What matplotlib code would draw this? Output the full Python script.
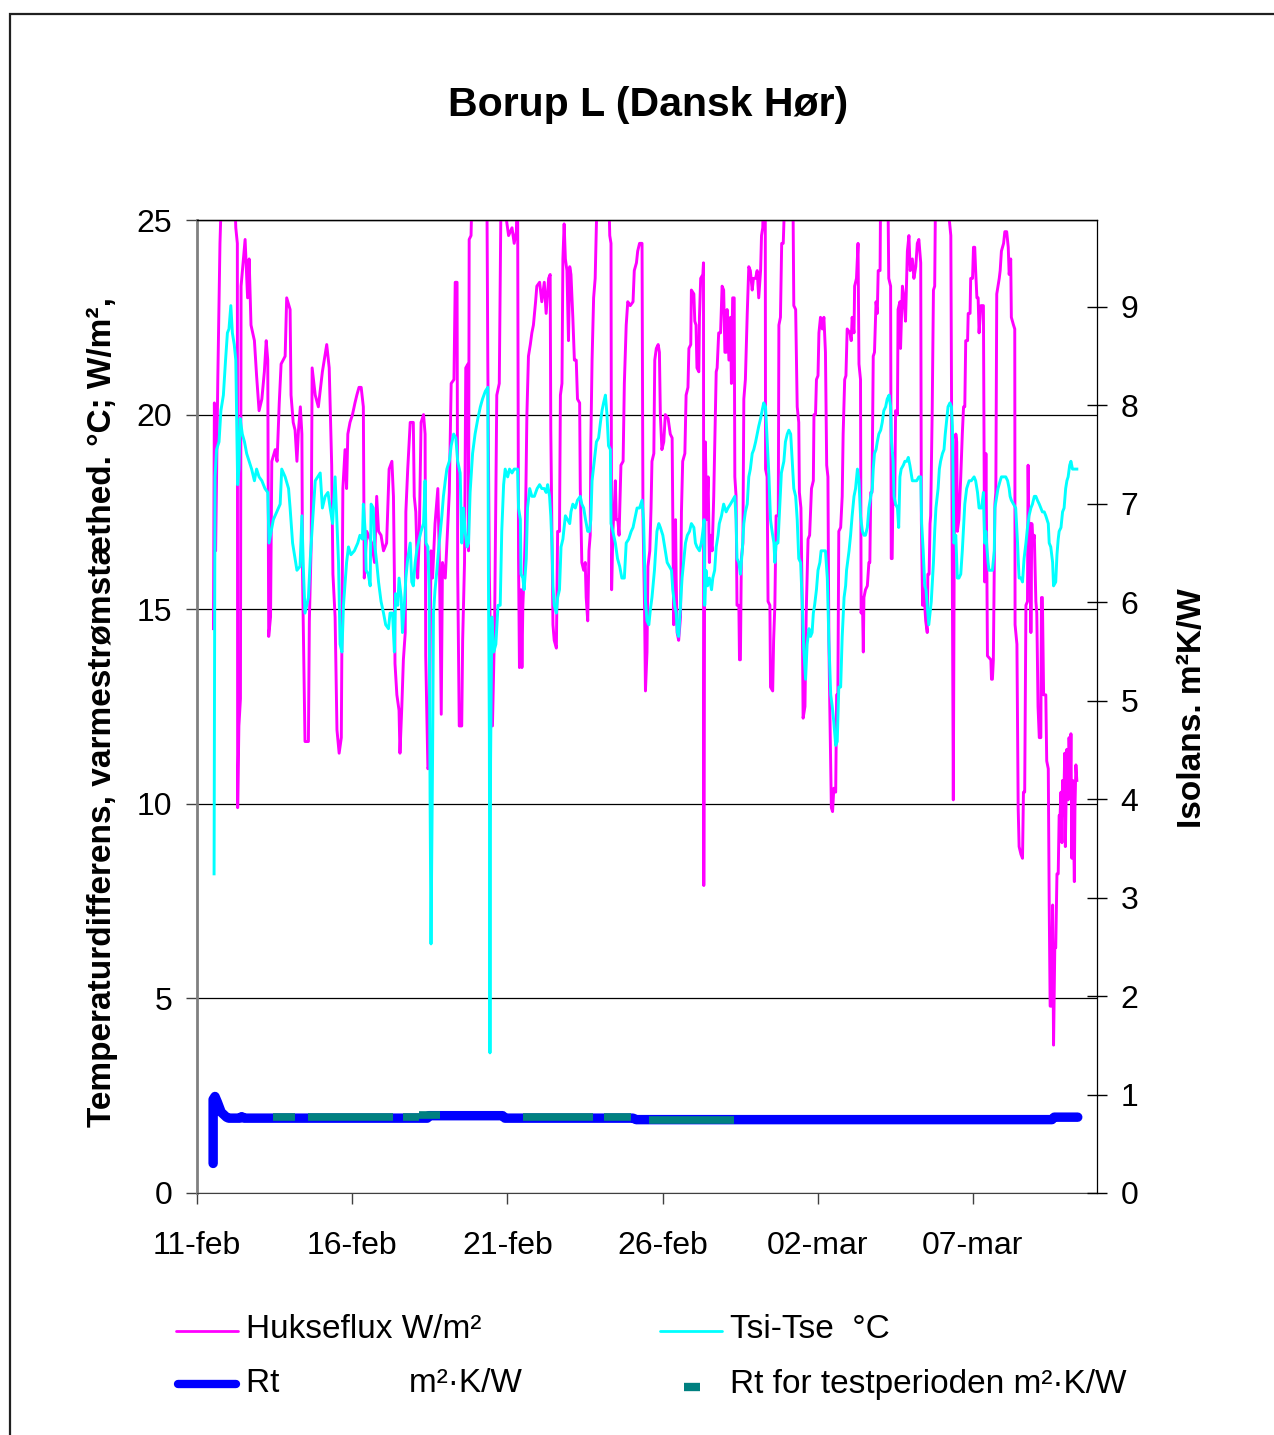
import matplotlib.pyplot as plt
import numpy as np
from matplotlib.lines import Line2D
from matplotlib.patches import Rectangle

plt.rcParams['font.family'] = ['Liberation Sans', 'DejaVu Sans']

# tid i dage efter 11-feb 2008 kl. 00
x_ticks = [0, 5, 10, 15, 20, 25]
x_labels = ['11-feb', '16-feb', '21-feb', '26-feb', '02-mar', '07-mar']

# Hukseflux varmestrømstæthed W/m² (dag, værdi)
huks = [
    (0.53, 14.5), (0.56, 20.3), (0.60, 16.5), (0.67, 20.9), (0.74, 24.4), (0.80, 26.0), (1.20, 26.0),
    (1.25, 24.8), (1.30, 24.4), (1.31, 9.9), (1.35, 12.0), (1.40, 12.7), (1.42, 23.3), (1.55, 24.5),
    (1.63, 23.0), (1.68, 24.0), (1.74, 22.3), (1.85, 21.9), (1.92, 21.0), (2.00, 20.1), (2.09, 20.4),
    (2.17, 21.1), (2.23, 21.9), (2.28, 21.4), (2.31, 14.3), (2.37, 14.8), (2.41, 18.8), (2.52, 19.1),
    (2.58, 18.8), (2.65, 20.3), (2.71, 21.3), (2.84, 21.5), (2.89, 23.0), (3.00, 22.7), (3.03, 20.5),
    (3.10, 19.8), (3.16, 19.6), (3.22, 18.8), (3.27, 19.6), (3.33, 20.2), (3.38, 19.5), (3.40, 15.9),
    (3.48, 11.6), (3.59, 11.6), (3.62, 14.7), (3.68, 16.7), (3.71, 21.2), (3.81, 20.5), (3.91, 20.2),
    (4.04, 21.1), (4.18, 21.8), (4.26, 21.2), (4.34, 18.7), (4.38, 15.9), (4.45, 14.8), (4.51, 11.9),
    (4.58, 11.3), (4.65, 11.7), (4.70, 18.1),
    (4.77, 19.1), (4.82, 18.1), (4.86, 19.5), (4.93, 19.8), (5.01, 20.0), (5.09, 20.3), (5.15, 20.5),
    (5.22, 20.7), (5.29, 20.7), (5.36, 20.2), (5.39, 15.8), (5.47, 17.0), (5.63, 16.7), (5.72, 16.2),
    (5.79, 17.9), (5.85, 17.0), (5.93, 16.9), (6.01, 16.5), (6.11, 16.7), (6.19, 18.6), (6.28, 18.8),
    (6.33, 17.9), (6.36, 15.9), (6.38, 13.6), (6.44, 12.8), (6.51, 12.4), (6.54, 11.3), (6.60, 12.5),
    (6.65, 13.7), (6.71, 14.4), (6.73, 17.5), (6.79, 18.6), (6.87, 19.8), (6.97, 19.8), (7.00, 17.9),
    (7.05, 17.5), (7.11, 15.8), (7.16, 16.8), (7.22, 19.8), (7.30, 20.0), (7.35, 19.5), (7.37, 13.8),
    (7.44, 10.9), (7.48, 11.0), (7.54, 16.5), (7.59, 15.8), (7.67, 17.2), (7.76, 18.1), (7.81, 16.3),
    (7.87, 12.3), (7.91, 16.2), (8.00, 15.8), (8.13, 18.0), (8.19, 20.8), (8.28, 20.9), (8.32, 23.4),
    (8.38, 23.4), (8.40, 16.0), (8.45, 12.0), (8.53, 12.0), (8.56, 14.2), (8.62, 16.2), (8.66, 21.2),
    (8.73, 21.3), (8.75, 16.5), (8.77, 24.5), (8.83, 24.6), (8.87, 26.0), (9.34, 26.0), (9.37, 21.4),
    (9.42, 15.9), (9.46, 13.9), (9.52, 12.0), (9.59, 14.6), (9.66, 20.5), (9.74, 20.8),
    (9.80, 26.0), (9.97, 25.0), (10.04, 24.6), (10.15, 24.8), (10.22, 24.4), (10.29, 24.7), (10.33, 26.0),
    (10.36, 16.3), (10.39, 13.5), (10.44, 15.5), (10.47, 13.5), (10.50, 15.1), (10.54, 15.9), (10.58, 17.0),
    (10.63, 20.0), (10.68, 21.5), (10.74, 21.8), (10.79, 22.1), (10.84, 22.3), (10.91, 22.9), (10.95, 23.3),
    (11.04, 23.4), (11.11, 22.9), (11.19, 23.4), (11.25, 22.6), (11.33, 23.5), (11.38, 23.6), (11.40, 19.6),
    (11.44, 16.7), (11.47, 14.6), (11.51, 14.2), (11.58, 14.0), (11.62, 17.0), (11.68, 17.0), (11.71, 20.5),
    (11.76, 20.8), (11.79, 24.0), (11.83, 24.9), (11.87, 24.0), (11.92, 23.7), (11.97, 21.9), (12.01, 23.8),
    (12.05, 23.6), (12.11, 22.5), (12.16, 21.4), (12.22, 21.4), (12.26, 20.4), (12.33, 20.3), (12.35, 18.1),
    (12.40, 16.2), (12.46, 16.0), (12.51, 16.2), (12.54, 15.3), (12.59, 14.7), (12.63, 16.5), (12.67, 16.9),
    (12.69, 19.3), (12.73, 21.4), (12.78, 23.0), (12.83, 23.5), (12.87, 24.9), (12.91, 26.0), (13.26, 26.0),
    (13.30, 24.6), (13.34, 24.4), (13.36, 15.5), (13.40, 17.0), (13.45, 17.7), (13.48, 18.3), (13.51, 17.3),
    (13.56, 17.3), (13.60, 16.9), (13.66, 18.7), (13.73, 18.8), (13.77, 20.8), (13.83, 22.3), (13.88, 22.9),
    (13.96, 22.8), (14.05, 22.9), (14.09, 23.7), (14.16, 23.9), (14.20, 24.2), (14.26, 24.4), (14.34, 24.4),
    (14.37, 17.4), (14.42, 15.1), (14.45, 12.9), (14.50, 13.9), (14.53, 16.1), (14.59, 16.5), (14.63, 17.6),
    (14.66, 18.8), (14.72, 19.0), (14.75, 21.4),
    (14.80, 21.7), (14.86, 21.8), (14.90, 21.6), (14.93, 20.0), (14.98, 19.1), (15.04, 19.3), (15.09, 20.0),
    (15.18, 19.9), (15.25, 19.5), (15.31, 19.4), (15.33, 17.4), (15.36, 14.6), (15.42, 17.3), (15.44, 15.8),
    (15.47, 14.4), (15.52, 14.2), (15.58, 14.8), (15.61, 17.5), (15.65, 18.8), (15.72, 19.0), (15.76, 20.5),
    (15.82, 20.7), (15.85, 21.7), (15.91, 21.8), (15.93, 23.2), (16.01, 23.1), (16.04, 22.4), (16.08, 22.3),
    (16.11, 21.2), (16.17, 21.1), (16.19, 22.5), (16.23, 23.5), (16.30, 23.6), (16.32, 23.9), (16.33, 7.9),
    (16.35, 15.0), (16.38, 19.3), (16.42, 17.3), (16.47, 18.4), (16.51, 16.2), (16.54, 16.9), (16.60, 16.5),
    (16.65, 17.9), (16.68, 19.1), (16.73, 21.1), (16.76, 21.2), (16.81, 22.1), (16.87, 22.1), (16.92, 23.3),
    (16.97, 23.2), (17.01, 21.6), (17.05, 21.6), (17.08, 22.7), (17.14, 21.4), (17.19, 22.5), (17.22, 20.8),
    (17.26, 23.0), (17.31, 23.0), (17.33, 18.4), (17.37, 17.9), (17.40, 15.1), (17.46, 15.1), (17.48, 13.7),
    (17.51, 13.7), (17.54, 16.3), (17.59, 16.7), (17.62, 20.4), (17.67, 20.9), (17.73, 22.6), (17.78, 23.8),
    (17.83, 23.7), (17.89, 23.2), (17.93, 23.5), (18.00, 23.5), (18.05, 23.7), (18.10, 23.0), (18.16, 23.7),
    (18.19, 24.6), (18.23, 24.8), (18.26, 26.0), (18.31, 26.0), (18.32, 18.6), (18.37, 18.4), (18.40, 15.2),
    (18.46, 15.1), (18.48, 13.0), (18.55, 12.9), (18.58, 14.2), (18.62, 15.1), (18.66, 17.4), (18.73, 17.4),
    (18.75, 22.3), (18.80, 22.5), (18.84, 24.4), (18.89, 24.4), (18.91, 24.9), (18.96, 26.0), (19.20, 26.0),
    (19.23, 22.8), (19.29, 22.7), (19.34, 20.2), (19.39, 19.8), (19.41, 18.0), (19.46, 17.6), (19.50, 15.2),
    (19.53, 12.2), (19.59, 12.5), (19.63, 14.9), (19.69, 16.8), (19.74, 16.9),
    (19.80, 18.1), (19.86, 18.3), (19.88, 20.0), (19.93, 20.0), (19.96, 20.9), (20.01, 21.0), (20.04, 22.1),
    (20.09, 22.5), (20.15, 22.2), (20.20, 22.5), (20.25, 21.6), (20.29, 18.7), (20.33, 18.4), (20.36, 14.2),
    (20.39, 12.5), (20.44, 9.9), (20.48, 9.8), (20.52, 10.4), (20.58, 10.3), (20.61, 12.8), (20.65, 12.8),
    (20.68, 17.0), (20.74, 17.1), (20.79, 17.9), (20.82, 19.5), (20.87, 20.9), (20.91, 21.0), (20.95, 22.2),
    (21.04, 22.1), (21.08, 21.9), (21.11, 22.5), (21.17, 22.1), (21.19, 23.3), (21.25, 23.5), (21.30, 24.4),
    (21.33, 21.3), (21.38, 20.9), (21.40, 14.9), (21.44, 15.3), (21.47, 13.9), (21.49, 15.3), (21.54, 15.5),
    (21.60, 15.6), (21.65, 16.2), (21.68, 16.2), (21.71, 18.0), (21.75, 18.0), (21.79, 21.5), (21.83, 21.6),
    (21.88, 22.9), (21.92, 22.6), (21.95, 23.7), (22.01, 23.7), (22.03, 26.0), (22.26, 26.0), (22.29, 23.5),
    (22.35, 23.3), (22.37, 16.3), (22.40, 16.3), (22.44, 19.0), (22.48, 17.7), (22.51, 20.1), (22.57, 20.0),
    (22.59, 22.7), (22.65, 22.9), (22.67, 21.7), (22.73, 23.3), (22.78, 23.0), (22.83, 22.4), (22.89, 24.2),
    (22.94, 24.6), (22.98, 23.7), (23.05, 24.0), (23.10, 23.5), (23.16, 23.8), (23.21, 24.4), (23.26, 24.5),
    (23.32, 23.9), (23.34, 17.3), (23.38, 15.1), (23.43, 15.6), (23.45, 15.1), (23.48, 14.7), (23.53, 14.4),
    (23.55, 15.9), (23.59, 15.9), (23.62, 17.2), (23.64, 17.4), (23.69, 20.1), (23.73, 23.2), (23.77, 23.3),
    (23.80, 26.0), (23.96, 25.5), (24.23, 25.1), (24.29, 24.6), (24.37, 10.1), (24.40, 16.7), (24.45, 19.5),
    (24.48, 19.3), (24.50, 17.0), (24.55, 17.3),
    (24.61, 18.4), (24.66, 19.5), (24.70, 20.2), (24.74, 20.2), (24.77, 21.9), (24.83, 21.9), (24.85, 22.6),
    (24.91, 22.6), (24.93, 23.5), (24.99, 23.5), (25.02, 24.3), (25.06, 24.3), (25.09, 23.7), (25.13, 23.0),
    (25.17, 23.0), (25.20, 22.1), (25.26, 22.8), (25.34, 22.8), (25.36, 19.1), (25.38, 15.7), (25.42, 19.0),
    (25.45, 16.2), (25.47, 13.8), (25.58, 13.7), (25.60, 13.2), (25.63, 13.2), (25.66, 13.7), (25.69, 16.0),
    (25.71, 17.7), (25.74, 18.0), (25.77, 23.1), (25.81, 23.3), (25.85, 23.5), (25.88, 23.7), (25.92, 24.2),
    (25.99, 24.4), (26.03, 24.7), (26.09, 24.7), (26.14, 24.3), (26.17, 23.6), (26.22, 24.0), (26.24, 22.5),
    (26.31, 22.3), (26.35, 22.2), (26.36, 14.6), (26.42, 14.1), (26.46, 9.9), (26.49, 8.9), (26.55, 8.7),
    (26.60, 8.6), (26.63, 10.3), (26.67, 10.3), (26.71, 15.1), (26.76, 15.2), (26.78, 18.7), (26.81, 16.5),
    (26.85, 17.2), (26.87, 14.4), (26.90, 17.2), (26.93, 16.7), (26.98, 16.9), (27.03, 15.2), (27.06, 14.9),
    (27.10, 12.5), (27.14, 11.7), (27.19, 11.7), (27.21, 15.3), (27.24, 15.3), (27.28, 12.8), (27.35, 12.8),
    (27.38, 11.1), (27.43, 10.9), (27.46, 7.4), (27.49, 4.8), (27.53, 4.8), (27.57, 7.4), (27.60, 3.8),
    (27.64, 6.3), (27.67, 6.3), (27.71, 8.2), (27.75, 8.2), (27.78, 9.7), (27.81, 9.7), (27.84, 10.3),
    (27.87, 9.0), (27.89, 10.6), (27.92, 9.7), (27.96, 11.3), (27.98, 8.9), (28.03, 11.4), (28.07, 10.1),
    (28.10, 11.7), (28.14, 10.4), (28.16, 11.8), (28.19, 8.6), (28.22, 10.6), (28.27, 8.0), (28.29, 9.9),
    (28.32, 11.0), (28.35, 10.6),
]

# Tsi-Tse temperaturdifferens °C (dag, værdi)
tsi = [
    (0.55, 8.2), (0.58, 18.4), (0.63, 19.1), (0.71, 19.3), (0.77, 20.1), (0.85, 20.5), (0.92, 21.4),
    (0.98, 22.1), (1.03, 22.2), (1.09, 22.8), (1.14, 22.1), (1.20, 21.8), (1.25, 21.4), (1.31, 18.2),
    (1.35, 18.6), (1.39, 19.9), (1.46, 19.5), (1.53, 19.3), (1.60, 19.0), (1.68, 18.8), (1.76, 18.6),
    (1.85, 18.3), (1.92, 18.6), (2.00, 18.4), (2.09, 18.3), (2.19, 18.1), (2.28, 18.0), (2.32, 16.7),
    (2.39, 17.0), (2.46, 17.3), (2.57, 17.5), (2.68, 17.7), (2.73, 18.6), (2.84, 18.4), (2.95, 18.1),
    (3.00, 17.6), (3.08, 16.7), (3.16, 16.3), (3.22, 16.0), (3.32, 16.1), (3.38, 17.4), (3.43, 16.0),
    (3.48, 14.9), (3.59, 15.3), (3.65, 16.3), (3.72, 17.2), (3.81, 18.3), (3.89, 18.4), (3.97, 18.5),
    (4.04, 17.6), (4.13, 17.9), (4.22, 18.0), (4.29, 17.6), (4.37, 17.2), (4.45, 18.4), (4.51, 17.2),
    (4.56, 16.2), (4.61, 14.1), (4.67, 13.9), (4.72, 15.1),
    (4.82, 16.2), (4.88, 16.6), (4.96, 16.4), (5.07, 16.5), (5.18, 16.7), (5.25, 16.9), (5.33, 16.8),
    (5.36, 17.7), (5.42, 17.0), (5.45, 16.0), (5.52, 15.9), (5.58, 15.6), (5.61, 17.7), (5.68, 17.6),
    (5.72, 16.7), (5.79, 16.2), (5.85, 15.7), (5.93, 15.2), (6.01, 14.9), (6.08, 14.6), (6.17, 14.5),
    (6.22, 14.9), (6.30, 14.9), (6.36, 13.9), (6.40, 15.4), (6.47, 15.1), (6.51, 15.8), (6.58, 15.3),
    (6.62, 14.4), (6.68, 15.1), (6.73, 15.8), (6.79, 16.3), (6.87, 16.7), (6.92, 15.7), (6.97, 15.6),
    (7.03, 16.2), (7.08, 16.5), (7.16, 16.8), (7.22, 17.0), (7.30, 17.2), (7.35, 18.3), (7.38, 16.7),
    (7.44, 16.6), (7.48, 15.5), (7.51, 10.2), (7.54, 6.4), (7.59, 11.1), (7.62, 14.9), (7.67, 15.5),
    (7.73, 16.0), (7.78, 16.5), (7.83, 16.9), (7.89, 17.4), (7.94, 17.9), (8.00, 18.3), (8.05, 18.6),
    (8.13, 18.8), (8.19, 19.2), (8.27, 19.5), (8.34, 19.4), (8.40, 18.8), (8.48, 18.5), (8.53, 16.7),
    (8.59, 17.6), (8.64, 17.0), (8.70, 16.6), (8.75, 16.7), (8.80, 18.0), (8.88, 19.0), (8.96, 19.5),
    (9.05, 19.9), (9.13, 20.2), (9.20, 20.4), (9.29, 20.6), (9.37, 20.7), (9.39, 15.9), (9.42, 11.8),
    (9.44, 3.6), (9.46, 11.1), (9.50, 14.8), (9.56, 13.9), (9.63, 14.1), (9.70, 15.1), (9.77, 15.1),
    (9.82, 17.0), (9.88, 18.2), (9.93, 18.6), (10.01, 18.4), (10.07, 18.6), (10.15, 18.5), (10.22, 18.6),
    (10.29, 18.6), (10.33, 18.6), (10.36, 17.6), (10.42, 17.3), (10.44, 15.9), (10.50, 15.8), (10.54, 15.5),
    (10.61, 16.3), (10.65, 17.6), (10.72, 18.1), (10.79, 17.9), (10.87, 17.9), (10.96, 18.1), (11.04, 18.2),
    (11.11, 18.1), (11.19, 18.1), (11.25, 18.0), (11.30, 18.2), (11.36, 17.9), (11.40, 17.4), (11.44, 16.6),
    (11.47, 15.6), (11.51, 15.1), (11.58, 14.9), (11.62, 15.3), (11.68, 15.5), (11.73, 16.6), (11.79, 16.8),
    (11.87, 17.4), (11.94, 17.3), (12.01, 17.2), (12.05, 17.5), (12.11, 17.7), (12.19, 17.6), (12.26, 17.8),
    (12.35, 17.9), (12.40, 17.7), (12.46, 17.6), (12.52, 17.3), (12.59, 17.0), (12.65, 17.0), (12.69, 17.3),
    (12.73, 18.3), (12.80, 18.8), (12.87, 19.3), (12.94, 19.4), (13.00, 19.8), (13.05, 20.1), (13.10, 20.3),
    (13.16, 20.5), (13.21, 20.0), (13.26, 19.2), (13.32, 19.1), (13.34, 17.2), (13.40, 17.0), (13.48, 16.7),
    (13.55, 16.3), (13.62, 16.1), (13.69, 15.8), (13.77, 15.8), (13.83, 16.7), (13.91, 16.8), (13.99, 17.0),
    (14.05, 17.1), (14.18, 17.6), (14.26, 17.6), (14.34, 17.8), (14.39, 17.3), (14.45, 15.2), (14.50, 14.7),
    (14.56, 14.6), (14.61, 15.0), (14.66, 15.3), (14.74, 16.0),
    (14.82, 17.0), (14.88, 17.2), (14.93, 17.1), (15.01, 16.9), (15.07, 16.6), (15.15, 16.2), (15.22, 16.1),
    (15.29, 16.0), (15.33, 15.5), (15.39, 15.1), (15.44, 14.9), (15.48, 14.4), (15.52, 14.3), (15.58, 15.1),
    (15.63, 15.8), (15.68, 16.2), (15.74, 16.7), (15.80, 16.9), (15.87, 17.0), (15.93, 17.2), (16.01, 17.1),
    (16.06, 16.7), (16.11, 16.6), (16.19, 16.5), (16.25, 16.7), (16.30, 17.0), (16.34, 17.3), (16.36, 15.1),
    (16.40, 16.0), (16.45, 15.6), (16.51, 15.8), (16.58, 15.5), (16.62, 15.8), (16.68, 16.0), (16.73, 16.6),
    (16.79, 16.9), (16.83, 17.2), (16.90, 17.4), (16.97, 17.7), (17.05, 17.5), (17.11, 17.6), (17.19, 17.7),
    (17.26, 17.8), (17.33, 17.9), (17.37, 17.3), (17.40, 16.3), (17.46, 16.2), (17.51, 15.9), (17.57, 16.5),
    (17.62, 17.2), (17.67, 17.5), (17.73, 17.7), (17.78, 18.4), (17.83, 18.6), (17.89, 19.0), (17.94, 19.1),
    (18.00, 19.3), (18.05, 19.5), (18.10, 19.7), (18.16, 19.9), (18.21, 20.1), (18.26, 20.3), (18.32, 20.2),
    (18.37, 19.4), (18.43, 18.4), (18.48, 17.3), (18.53, 17.0), (18.59, 16.7), (18.62, 16.2), (18.66, 16.7),
    (18.72, 16.7), (18.77, 17.5), (18.83, 18.5), (18.91, 18.8), (18.96, 19.3), (19.02, 19.5), (19.07, 19.6),
    (19.13, 19.5), (19.18, 18.8), (19.23, 18.1), (19.29, 17.9), (19.34, 17.3), (19.39, 16.3), (19.45, 16.2),
    (19.50, 15.2), (19.55, 14.0), (19.61, 13.2), (19.66, 14.1), (19.72, 14.5),
    (19.77, 14.3), (19.82, 14.4), (19.86, 14.9), (19.90, 15.1), (19.96, 15.5), (20.01, 16.0), (20.07, 16.2),
    (20.11, 16.5), (20.18, 16.5), (20.25, 16.5), (20.31, 15.8), (20.36, 14.2), (20.42, 12.8), (20.47, 12.5),
    (20.52, 12.1), (20.58, 11.5), (20.63, 11.6), (20.68, 13.0), (20.74, 13.0), (20.79, 14.3), (20.85, 15.3),
    (20.90, 15.6), (20.93, 16.0), (21.01, 16.5), (21.06, 16.9), (21.11, 17.4), (21.17, 17.9), (21.22, 18.1),
    (21.28, 18.6), (21.33, 18.3), (21.38, 17.4), (21.44, 17.0), (21.49, 16.9), (21.54, 16.9), (21.60, 17.1),
    (21.65, 17.6), (21.71, 17.9), (21.76, 18.1), (21.79, 18.6), (21.83, 19.0), (21.88, 19.1), (21.92, 19.3),
    (21.97, 19.5), (22.03, 19.6), (22.08, 19.8), (22.13, 20.1), (22.19, 20.2), (22.24, 20.4), (22.30, 20.5),
    (22.35, 20.2), (22.38, 19.3), (22.43, 18.8), (22.46, 17.9), (22.51, 17.7), (22.57, 17.6), (22.61, 17.1),
    (22.65, 18.4), (22.69, 18.6), (22.76, 18.7), (22.81, 18.8), (22.87, 18.8), (22.92, 18.9), (22.97, 18.7),
    (23.05, 18.3), (23.12, 18.3), (23.19, 18.3), (23.26, 18.4), (23.32, 18.4), (23.35, 17.2), (23.40, 16.5),
    (23.45, 15.6), (23.49, 15.5), (23.53, 15.1), (23.58, 14.6), (23.62, 14.9), (23.66, 15.2), (23.73, 16.2),
    (23.77, 17.0), (23.81, 17.6), (23.88, 18.1), (23.92, 18.6), (23.96, 18.8), (24.02, 19.0), (24.07, 19.1),
    (24.11, 19.5), (24.16, 19.9), (24.20, 20.2), (24.26, 20.3), (24.31, 20.2), (24.34, 19.7), (24.37, 17.9),
    (24.39, 16.7), (24.45, 16.9), (24.50, 15.8), (24.55, 15.8),
    (24.61, 15.9), (24.66, 16.5), (24.70, 17.1), (24.74, 17.7), (24.80, 18.1), (24.88, 18.3), (24.95, 18.3),
    (25.04, 18.4), (25.09, 18.3), (25.15, 18.0), (25.20, 17.6), (25.28, 17.6), (25.34, 18.0), (25.38, 16.7),
    (25.42, 17.0), (25.45, 16.6), (25.49, 16.2), (25.52, 16.0), (25.58, 16.0), (25.63, 16.0), (25.69, 16.5),
    (25.71, 17.6), (25.77, 17.9), (25.81, 18.1), (25.88, 18.3), (25.92, 18.4), (25.99, 18.4), (26.06, 18.4),
    (26.12, 18.3), (26.17, 18.1), (26.20, 17.9), (26.24, 17.8), (26.31, 17.7), (26.38, 17.6), (26.44, 16.7),
    (26.46, 16.3), (26.49, 15.8), (26.55, 15.8), (26.60, 15.7), (26.65, 16.3), (26.71, 16.7), (26.76, 17.1),
    (26.81, 17.4), (26.87, 17.6), (26.92, 17.7), (26.98, 17.9), (27.03, 17.9), (27.08, 17.8), (27.14, 17.7),
    (27.19, 17.6), (27.24, 17.5), (27.30, 17.5), (27.35, 17.4), (27.43, 17.2), (27.46, 16.7), (27.51, 16.6),
    (27.57, 16.2), (27.60, 15.6), (27.67, 15.7), (27.71, 16.4), (27.75, 16.8), (27.78, 17.0), (27.84, 17.1),
    (27.89, 17.5), (27.94, 17.6), (27.99, 18.1), (28.03, 18.3), (28.07, 18.4), (28.12, 18.7), (28.16, 18.8),
    (28.21, 18.6), (28.27, 18.6), (28.32, 18.6), (28.35, 18.6),
]

# Rt isolans m²K/W (dag, værdi) - højre akse
rt = [
    (0.52, 0.30), (0.52, 0.95), (0.58, 0.98), (0.66, 0.92), (0.78, 0.82), (0.95, 0.77), (1.02, 0.76),
    (1.38, 0.76), (1.44, 0.775), (1.52, 0.76), (7.42, 0.76), (7.47, 0.785), (9.85, 0.785), (9.92, 0.76),
    (14.05, 0.76), (14.15, 0.745), (27.55, 0.745), (27.62, 0.77), (28.38, 0.77),
]

# Rt for testperioden (fra dag, til dag, værdi)
test_perioder = [
    (2.45, 3.16, 0.77), (3.58, 6.32, 0.77), (6.65, 7.16, 0.77), (7.16, 7.84, 0.79),
    (10.52, 12.77, 0.77), (13.13, 13.97, 0.77), (14.55, 17.29, 0.745),
]

W, H = 1274, 1435


def fx(px):
    return px / W


def fy(py):
    return 1 - py / H


fig = plt.figure(figsize=(W / 100, H / 100), dpi=100)
fig.patch.set_facecolor('white')

# ramme om hele diagrammet (går ud over højre og nederste kant)
fig.patches.append(Rectangle((fx(10), -0.1), 1.2, fy(14) + 0.1, transform=fig.transFigure,
                             fill=False, edgecolor='#202020', lw=1.6))

ax = fig.add_axes([fx(197), fy(1193), fx(1097) - fx(197), fy(220) - fy(1193)])

h_t, h_v = np.array(huks).T
t_t, t_v = np.array(tsi).T
ax.plot(h_t, h_v, color='#FF00FF', lw=2.1, label='Hukseflux W/m²')
ax.plot(t_t, t_v, color='#00FFFF', lw=2.1, label='Tsi-Tse  °C')

ax.set_xlim(0, 29)
ax.set_ylim(0, 25)
ax.set_yticks([0, 5, 10, 15, 20, 25])
ax.set_xticks(x_ticks)
ax.set_xticklabels(x_labels)
ax.yaxis.grid(True, color='black', lw=0.9)
ax.set_axisbelow(True)
ax.tick_params(axis='y', direction='out', length=8, width=1, labelsize=23, pad=10, color='#404040')
ax.tick_params(axis='x', direction='out', length=8, width=1, labelsize=23, pad=19, color='#404040')
ax.spines['left'].set_color('#808080')
ax.spines['left'].set_linewidth(2)
ax.spines['bottom'].set_color('#404040')
ax.spines['top'].set_linewidth(0.9)
ax.spines['right'].set_visible(False)

ax2 = ax.twinx()
r_t, r_v = np.array(rt).T
ax2.plot(r_t, r_v, color='#0000FF', lw=6.8, solid_capstyle='round', solid_joinstyle='round',
         label='Rt              m²·K/W')
tp_t, tp_v = [], []
for fra, til, val in test_perioder:
    tp_t += [fra, til, np.nan]
    tp_v += [val, val, np.nan]
ax2.plot(tp_t, tp_v, color='#008080', lw=5.5, solid_capstyle='butt',
         label='Rt for testperioden m²·K/W')
ax2.set_ylim(0, 9.88)
ax2.set_yticks(range(10))
ax2.tick_params(axis='y', direction='inout', length=14, width=1, labelsize=23, pad=10)
ax2.spines['left'].set_visible(False)
ax2.spines['right'].set_linewidth(0.9)
ax2.spines['top'].set_linewidth(0.9)
ax2.spines['bottom'].set_visible(False)

fig.text(fx(648), fy(105), 'Borup L (Dansk Hør)', ha='center', va='center',
         fontsize=29.5, fontweight='bold')
fig.text(fx(102), fy(712), 'Temperaturdifferens, varmestrømstæthed. °C; W/m²,', rotation=90,
         ha='center', va='center', fontsize=24, fontweight='bold')
fig.text(fx(1193), fy(708), 'Isolans. m²K/W', rotation=90, ha='center', va='center',
         fontsize=24, fontweight='bold')

# forklaring
leg = [
    (176, 238, 1331, '#FF00FF', 2.0, 'Hukseflux W/m²', 'round'),
    (660, 722, 1331, '#00FFFF', 2.0, 'Tsi-Tse  °C', 'round'),
    (178, 236, 1384, '#0000FF', 6.0, 'Rt              m²·K/W', 'round'),
    (684, 700, 1387, '#008080', 6.0, 'Rt for testperioden m²·K/W', 'butt'),
]
for x0, x1, yy, c, lw, txt, cap in leg:
    fig.add_artist(Line2D([fx(x0), fx(x1)], [fy(yy), fy(yy)], transform=fig.transFigure,
                          color=c, lw=lw, solid_capstyle=cap))
    tx = 246 if x0 < 400 else 730
    fig.text(fx(tx), fy(1330 if yy < 1350 else 1384), txt, ha='left', va='center', fontsize=24)

fig.savefig('out.png', dpi=100, facecolor='white')
